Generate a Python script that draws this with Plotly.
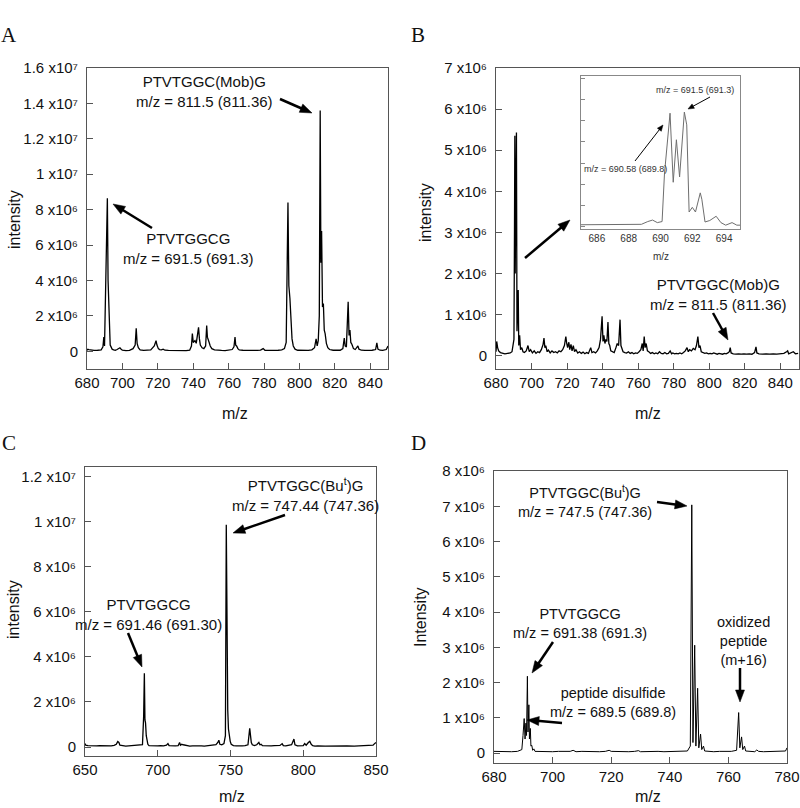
import math
import plotly.graph_objects as go

# ---------------- data (intensities in units of 1e6) ----------------
mz_a = [680.0, 680.5, 681, 682, 684, 686, 688, 689, 689.5, 689.9, 690.3, 690.8, 691.1, 691.5, 691.9, 692.4, 692.7, 693.1, 693.6, 694.2,
        695, 696, 697, 698, 698.6, 699.3, 700, 702, 704, 706, 707.2, 707.8, 708.3, 709, 710, 712, 714, 716, 718, 719,
        719.5, 720.3, 721, 722, 723, 724, 726, 728, 730, 732, 734, 736, 738, 739, 739.5, 740, 740.5, 741, 741.7, 742.5,
        743, 743.5, 744, 745, 746, 747, 747.6, 748, 748.5, 749, 749.6, 750.5, 752, 754, 756, 758, 760, 762, 763, 763.6,
        764, 764.5, 765.2, 766, 768, 770, 772, 774, 776, 778, 779.5, 780.5, 782, 784, 786, 788, 790, 791.5, 792.5, 793.5,
        794, 794.6, 795.2, 795.8, 796.5, 797.5, 799, 801, 803, 805, 807, 808.5, 809.4, 810, 810.6, 811.2, 811.7, 812.1, 812.5, 813,
        813.5, 814, 814.5, 815.2, 816, 817, 819, 821, 823, 824.5, 825.3, 825.8, 826.5, 827.5, 828, 828.5, 829, 829.6, 830.5, 831.5,
        833, 833.6, 835, 837, 839, 841, 843, 843.7, 844.3, 845.5, 847, 849, 850]
int_a = [0.05, 0.12, 0.1, 0.07, 0.05, 0.06, 0.08, 0.25, 0.8, 0.3, 2.5, 6.4, 6.2, 8.65, 4.0, 2.55, 1.0, 0.35, 0.25, 0.12,
         0.08, 0.06, 0.1, 0.18, 0.2, 0.12, 0.06, 0.04, 0.05, 0.15, 0.35, 1.3, 0.45, 0.2, 0.08, 0.05, 0.06, 0.08, 0.3, 0.6,
         0.35, 0.15, 0.1, 0.08, 0.12, 0.06, 0.05, 0.04, 0.05, 0.06, 0.05, 0.04, 0.06, 0.3, 1.0, 0.5, 0.55, 0.6, 0.45, 1.0,
         1.35, 0.7, 0.35, 0.2, 0.15, 0.3, 1.45, 0.8, 0.55, 0.5, 0.3, 0.15, 0.08, 0.05, 0.05, 0.04, 0.06, 0.1, 0.25, 0.8,
         0.35, 0.3, 0.15, 0.08, 0.06, 0.05, 0.07, 0.04, 0.05, 0.07, 0.15, 0.06, 0.05, 0.04, 0.05, 0.06, 0.08, 0.15, 0.5, 8.4,
         3.7, 3.0, 1.6, 0.7, 0.3, 0.12, 0.06, 0.05, 0.04, 0.05, 0.08, 0.2, 0.7, 0.3, 0.6, 2.0, 13.6, 5.0, 6.8, 2.5,
         2.7, 1.2, 1.0, 0.45, 0.2, 0.1, 0.06, 0.05, 0.06, 0.15, 0.75, 0.3, 0.25, 2.8, 0.9, 1.2, 0.5, 0.4, 0.15, 0.1,
         0.3, 0.12, 0.06, 0.05, 0.04, 0.06, 0.1, 0.47, 0.12, 0.06, 0.05, 0.1, 0.3]

mz_b = [680.0, 680.4, 680.9, 681.5, 682.5, 683.5, 685, 686.5, 688, 689, 689.5, 690.1, 690.4, 690.6, 690.8, 691.0, 691.2, 691.5, 691.8, 692.1,
        692.5, 692.8, 693.3, 693.8, 694.5, 695.2, 696, 697, 698, 698.7, 699.5, 700.5, 701.5, 702.5, 703.5, 704.5, 705.5, 706.5, 707, 707.5,
        708, 708.8, 709.5, 710.5, 711.5, 712.5, 713.5, 714.5, 715.5, 716.5, 717.5, 718.5, 719.3, 719.8, 720.3, 721, 721.5, 722.2, 722.8, 723.5,
        724.2, 725, 726, 727, 728, 729, 730, 731, 732, 733.3, 734, 735, 736, 737, 738, 738.8, 739.7, 740.2, 740.7, 741.3,
        741.8, 742.4, 743, 743.5, 744, 744.6, 745.5, 746.5, 747.5, 748.2, 749, 749.8, 750.3, 750.8, 751.5, 752.5, 753.5, 754.5, 755.5, 756.5,
        757.5, 758.5, 759.5, 760.5, 761.5, 762.3, 762.8, 763.4, 763.9, 764.5, 765.2, 766, 767, 768, 769, 770, 771, 772, 773, 774,
        775, 776, 777, 778, 778.8, 779.5, 780.5, 781.5, 782.5, 783.5, 784.5, 785.5, 786.5, 787.5, 788.2, 789, 790, 791, 792, 792.8,
        793.6, 794.2, 794.8, 795.5, 796.5, 797.5, 798.5, 799.5, 800.5, 801.5, 802.5, 803.5, 804.5, 805.5, 806.5, 807.5, 808.5, 809.5, 810.5, 811.3,
        811.8, 812.3, 813.5, 815, 816.5, 818, 819.5, 821, 822.5, 824, 825.5, 826.3, 826.8, 828, 830, 832, 834, 836, 838, 840,
        842, 843.5, 844.1, 844.7, 846, 847.3, 848.5, 850]
int_b = [0.1, 0.35, 0.2, 0.12, 0.08, 0.06, 0.05, 0.06, 0.07, 0.1, 0.3, 0.4, 3.0, 5.35, 2.0, 4.1, 2.3, 5.43, 0.6, 0.9,
         1.6, 0.25, 0.5, 0.15, 0.2, 0.1, 0.08, 0.12, 0.25, 0.1, 0.15, 0.07, 0.12, 0.06, 0.1, 0.08, 0.15, 0.28, 0.43, 0.2,
         0.25, 0.1, 0.14, 0.07, 0.12, 0.08, 0.1, 0.07, 0.12, 0.1, 0.15, 0.25, 0.47, 0.3, 0.2, 0.33, 0.15, 0.28, 0.12, 0.25,
         0.1, 0.15, 0.07, 0.1, 0.06, 0.09, 0.05, 0.08, 0.06, 0.2, 0.08, 0.1, 0.07, 0.12, 0.2, 0.4, 0.96, 0.35, 0.5, 0.3,
         0.4, 0.35, 0.82, 0.3, 0.25, 0.12, 0.1, 0.08, 0.2, 0.3, 0.25, 0.88, 0.25, 0.2, 0.1, 0.08, 0.07, 0.1, 0.06, 0.08,
         0.05, 0.07, 0.06, 0.1, 0.15, 0.3, 0.12, 0.47, 0.2, 0.3, 0.12, 0.1, 0.06, 0.08, 0.05, 0.07, 0.05, 0.1, 0.06, 0.05,
         0.08, 0.05, 0.06, 0.12, 0.05, 0.07, 0.05, 0.06, 0.05, 0.07, 0.05, 0.08, 0.12, 0.2, 0.1, 0.15, 0.12, 0.18, 0.15, 0.25,
         0.47, 0.2, 0.25, 0.1, 0.08, 0.06, 0.07, 0.05, 0.06, 0.05, 0.07, 0.05, 0.04, 0.06, 0.05, 0.04, 0.06, 0.05, 0.07, 0.1,
         0.2, 0.07, 0.05, 0.04, 0.05, 0.04, 0.05, 0.04, 0.05, 0.04, 0.08, 0.22, 0.07, 0.05, 0.04, 0.05, 0.04, 0.05, 0.04, 0.05,
         0.06, 0.1, 0.12, 0.05, 0.08, 0.1, 0.05, 0.06]

mz_inset = [685.0, 686, 687, 688, 688.8, 689.2, 689.5, 689.8, 690.1, 690.25, 690.6, 690.8, 691.0, 691.2, 691.5, 691.65, 691.8, 692.0, 692.2, 692.5,
            692.6, 692.8, 693.1, 693.5, 693.8, 694.1, 694.5, 694.8, 695]
int_inset = [0.1, 0.1, 0.09, 0.1, 0.12, 0.25, 0.32, 0.2, 0.25, 2.5, 5.35, 2.1, 4.1, 2.35, 5.4, 4.8, 0.7, 0.92, 0.7, 1.6,
             1.3, 0.23, 0.3, 0.5, 0.2, 0.08, 0.2, 0.08, 0.08]

mz_c = [650, 650.5, 652, 654, 656, 658, 660, 662, 664, 666, 668, 670, 671.5, 672.5, 673.3, 674, 676, 678, 680, 682,
        684, 686, 688, 689.5, 690.3, 690.8, 691.2, 691.6, 692.1, 692.6, 693.2, 694, 696, 698, 700, 702, 704, 706, 707, 707.8,
        710, 712, 714, 715, 715.6, 716.5, 717.5, 718.5, 720, 722, 724, 726, 728, 730, 732, 734, 736, 738, 740, 741.3,
        742, 742.7, 744, 745.5, 746.5, 747.1, 747.6, 748.1, 748.6, 749.2, 749.8, 750.5, 752, 754, 756, 758, 760, 762, 763.2, 763.7,
        764.3, 765, 766.5, 768, 769.5, 770.2, 771, 772, 774, 776, 778, 780, 782, 784, 785.5, 786.3, 788, 790, 792, 793.6,
        794.3, 796, 798, 800, 801, 802, 803.5, 804.5, 805.5, 806.5, 808, 810, 815, 820, 825, 830, 835, 840, 845, 848,
        849, 850]
int_c = [0.15, 0.08, 0.06, 0.05, 0.07, 0.05, 0.06, 0.05, 0.04, 0.06, 0.05, 0.07, 0.12, 0.24, 0.2, 0.08, 0.05, 0.04, 0.05, 0.06,
         0.04, 0.05, 0.06, 0.1, 1.35, 3.28, 1.2, 1.07, 0.5, 0.3, 0.12, 0.06, 0.05, 0.04, 0.05, 0.06, 0.05, 0.08, 0.15, 0.06,
         0.04, 0.05, 0.06, 0.2, 0.08, 0.12, 0.1, 0.08, 0.05, 0.04, 0.05, 0.06, 0.04, 0.05, 0.04, 0.06, 0.05, 0.07, 0.1, 0.2,
         0.3, 0.12, 0.1, 0.15, 0.5, 9.87, 4.46, 1.64, 0.8, 0.5, 0.25, 0.12, 0.06, 0.05, 0.04, 0.05, 0.06, 0.1, 0.83, 0.3,
         0.2, 0.1, 0.06, 0.1, 0.2, 0.1, 0.12, 0.06, 0.05, 0.04, 0.05, 0.06, 0.05, 0.07, 0.15, 0.06, 0.05, 0.06, 0.1, 0.35,
         0.1, 0.05, 0.04, 0.06, 0.15, 0.08, 0.2, 0.25, 0.12, 0.06, 0.04, 0.05, 0.04, 0.05, 0.04, 0.05, 0.04, 0.05, 0.06, 0.08,
         0.15, 0.2]

mz_d = [680, 682, 684, 686, 688, 689.5, 689.9, 690.3, 690.6, 690.9, 691.1, 691.4, 691.6, 691.9, 692.1, 692.4, 692.6, 692.9, 693.2, 693.6,
        694, 696, 698, 700, 702, 704, 706, 707, 708, 710, 712, 714, 716, 718, 719.3, 720, 722, 724, 726, 728,
        729.3, 730, 732, 734, 736, 738, 740, 742, 744, 746, 747, 747.5, 747.9, 748.5, 748.9, 749.5, 749.9, 750.5, 750.9, 751.5,
        751.9, 753, 755, 757, 759, 761, 762.8, 763.5, 763.9, 764.5, 764.9, 765.5, 765.9, 767, 769, 769.7, 770.3, 772, 774, 776,
        778, 779.5, 780]
int_d = [0.05, 0.04, 0.05, 0.04, 0.05, 0.1, 0.5, 0.98, 0.4, 0.85, 0.5, 2.18, 0.6, 1.37, 0.4, 0.7, 0.2, 0.22, 0.08, 0.12,
         0.05, 0.04, 0.05, 0.04, 0.05, 0.04, 0.05, 0.08, 0.04, 0.05, 0.04, 0.05, 0.04, 0.05, 0.08, 0.05, 0.04, 0.05, 0.04, 0.05,
         0.07, 0.04, 0.05, 0.04, 0.05, 0.04, 0.05, 0.04, 0.05, 0.06, 0.2, 7.04, 0.3, 3.06, 0.2, 1.84, 0.15, 0.54, 0.1, 0.2,
         0.06, 0.05, 0.04, 0.05, 0.04, 0.05, 0.08, 1.15, 0.15, 0.46, 0.1, 0.2, 0.06, 0.05, 0.04, 0.09, 0.05, 0.04, 0.05, 0.04,
         0.05, 0.06, 0.15]

# tick labels
yticks_a = [0, 2, 4, 6, 8, 10, 12, 14, 16]
ytext_a = ["0", "2 x10⁶", "4 x10⁶", "6 x10⁶", "8 x10⁶", "1 x10⁷", "1.2 x10⁷", "1.4 x10⁷", "1.6 x10⁷"]
yticks_b = [0, 1, 2, 3, 4, 5, 6, 7]
ytext_b = ["0", "1 x10⁶", "2 x10⁶", "3 x10⁶", "4 x10⁶", "5 x10⁶", "6 x10⁶", "7 x10⁶"]
yticks_c = [0, 2, 4, 6, 8, 10, 12]
ytext_c = ["0", "2 x10⁶", "4 x10⁶", "6 x10⁶", "8 x10⁶", "1 x10⁷", "1.2 x10⁷"]
yticks_d = [0, 1, 2, 3, 4, 5, 6, 7, 8]
ytext_d = ["0", "1 x10⁶", "2 x10⁶", "3 x10⁶", "4 x10⁶", "5 x10⁶", "6 x10⁶", "7 x10⁶", "8 x10⁶"]
xticks_ab = [680, 700, 720, 740, 760, 780, 800, 820, 840]
xticks_c = [650, 700, 750, 800, 850]
xticks_d = [680, 700, 720, 740, 760, 780]
xticks_inset = [686, 688, 690, 692, 694]
yticks_inset = [0, 1, 2, 3, 4, 5, 6, 7]

# ---------------- figure ----------------
W, H = 800, 808
def fx(px):
    return px / W
def fy(py):
    return 1 - py / H

FONT = "Liberation Sans, Arial, sans-serif"
SERIF = "Liberation Serif, Times New Roman, serif"
fig = go.Figure()

def spec(x, y, ax, color="black", width=1.3):
    fig.add_trace(go.Scatter(x=x, y=y, mode="lines", line=dict(color=color, width=width),
                             xaxis="x" + ax, yaxis="y" + ax, showlegend=False, hoverinfo="skip"))

spec(mz_a, int_a, "")
spec(mz_b, int_b, "2")
spec(mz_c, int_c, "3")
spec(mz_d, int_d, "4", width=1.0)
spec(mz_inset, int_inset, "5", color="#6e6e6e", width=1.0)

axcommon = dict(showline=True, linecolor="#555", linewidth=1, mirror=True, ticks="inside",
                ticklen=6, tickcolor="#555", showgrid=False, zeroline=False, automargin=False,
                tickfont=dict(family=FONT, size=15, color="#111"))

def xax(dom, rng, tv, anchor):
    return dict(axcommon, domain=[fx(dom[0]), fx(dom[1])], range=rng, tickvals=tv, anchor=anchor)

def yax(dom, rng, tv, tt, anchor):
    return dict(axcommon, domain=[fy(dom[1]), fy(dom[0])], range=rng, tickvals=tv, ticktext=tt,
                anchor=anchor, ticklabelstandoff=5)

fig.update_layout(
    width=W, height=H, margin=dict(l=0, r=0, t=0, b=0, pad=0, autoexpand=False),
    paper_bgcolor="white", plot_bgcolor="white", showlegend=False,
    xaxis=xax((87, 388), [680, 850], xticks_ab, "y"),
    yaxis=yax((68, 369), [-1.0, 16.0], yticks_a, ytext_a, "x"),
    xaxis2=xax((496, 799), [680, 850.5], xticks_ab, "y2"),
    yaxis2=yax((68, 369), [-0.32, 7.0], yticks_b, ytext_b, "x2"),
    xaxis3=xax((85, 376), [650, 850], xticks_c, "y3"),
    yaxis3=yax((467, 756), [-0.4, 12.44], yticks_c, ytext_c, "x3"),
    xaxis4=xax((494, 787), [680, 780], xticks_d, "y4"),
    yaxis4=yax((471, 763), [-0.28, 8.0], yticks_d, ytext_d, "x4"),
    xaxis5=dict(showline=True, linecolor="#888", linewidth=1, mirror=True, ticks="", automargin=False,
                showgrid=False, zeroline=False, domain=[fx(581), fx(740)], range=[685, 695],
                tickvals=xticks_inset, anchor="y5",
                tickfont=dict(family=FONT, size=10, color="#333")),
    yaxis5=dict(showline=True, linecolor="#888", linewidth=1, mirror=True, ticks="inside", ticklen=4,
                tickcolor="#888", showgrid=False, zeroline=False, showticklabels=False, automargin=False,
                domain=[fy(229), fy(76)], range=[-0.1, 7.1], tickvals=yticks_inset, anchor="x5"),
)

ann = []
shapes = []

def label(text, cx, cy, size=15, family=FONT, angle=0, color="#111"):
    ann.append(dict(text=text, x=fx(cx), y=fy(cy), xref="paper", yref="paper", showarrow=False,
                    xanchor="center", yanchor="middle", textangle=angle, borderpad=0,
                    font=dict(family=family, size=size, color=color)))

def arrow(hx, hy, tx, ty, width=2.5, hl=12, hw=9):
    dx, dy = hx - tx, hy - ty
    L = math.hypot(dx, dy)
    ux, uy = dx / L, dy / L
    bx, by = hx - ux * hl, hy - uy * hl
    px_, py_ = -uy, ux
    shapes.append(dict(type="line", xref="paper", yref="paper",
                       x0=fx(tx), y0=fy(ty), x1=fx(bx + ux * 2), y1=fy(by + uy * 2),
                       line=dict(color="black", width=width)))
    p1 = (bx + px_ * hw / 2, by + py_ * hw / 2)
    p2 = (bx - px_ * hw / 2, by - py_ * hw / 2)
    path = "M %.5f %.5f L %.5f %.5f L %.5f %.5f Z" % (fx(hx), fy(hy), fx(p1[0]), fy(p1[1]), fx(p2[0]), fy(p2[1]))
    shapes.append(dict(type="path", xref="paper", yref="paper", path=path,
                       fillcolor="black", line=dict(color="black", width=0.5)))

# panel letters
label("A", 9, 35, 21, SERIF)
label("B", 418, 35, 21, SERIF)
label("C", 9, 443, 21, SERIF)
label("D", 418, 443, 21, SERIF)

# axis titles
label("intensity", 14, 220, 16, angle=-90)
label("intensity", 425, 213, 16, angle=-90)
label("intensity", 13, 610, 16, angle=-90)
label("Intensity", 420, 617, 16, angle=-90)
label("m/z", 235, 413, 16)
label("m/z", 648, 413, 16)
label("m/z", 232, 796, 16)
label("m/z", 648, 796, 16)
label("m/z", 661, 257, 10, color="#333")

# panel A
label("PTVTGGC(Mob)G<br>m/z = 811.5 (811.36)", 205, 92)
arrow(312, 113, 280, 99)
label("PTVTGGCG<br>m/z = 691.5 (691.3)", 188, 249)
arrow(113, 204, 152, 228)

# panel B
label("PTVTGGC(Mob)G<br>m/z = 811.5 (811.36)", 718, 294)
arrow(728, 340, 713, 313)
arrow(570, 220, 525, 258)
label("m/z = 691.5 (691.3)", 695, 90, 9, color="#333")
arrow(688, 109, 710, 97, width=1.0, hl=6, hw=5)
label("m/z = 690.58 (689.8)", 625, 169, 9, color="#333")
arrow(663, 125, 635, 161, width=1.0, hl=6, hw=5)

# panel C
label("PTVTGGC(Bu<sup>t</sup>)G<br>m/z = 747.44 (747.36)", 305, 494)
arrow(233, 533, 285, 515)
label("PTVTGGCG<br>m/z = 691.46 (691.30)", 148, 614)
arrow(142, 667, 128, 633)

# panel D
label("PTVTGGC(Bu<sup>t</sup>)G<br>m/z = 747.5 (747.36)", 585, 501, 14.5)
arrow(687, 506, 657, 502)
label("PTVTGGCG<br>m/z = 691.38 (691.3)", 580, 623, 14.5)
arrow(532, 673, 553, 642)
label("peptide disulfide<br>m/z = 689.5 (689.8)", 613, 702, 14.5)
arrow(527, 720, 562, 723)
label("oxidized<br>peptide<br>(m+16)", 743, 641, 14.5)
arrow(740, 702, 740, 668)

fig.update_layout(annotations=ann, shapes=shapes)
fig.write_html("out.html", config={"displayModeBar": False, "staticPlot": True},
               post_script="document.body.style.margin='0px';document.body.style.padding='0px';")
